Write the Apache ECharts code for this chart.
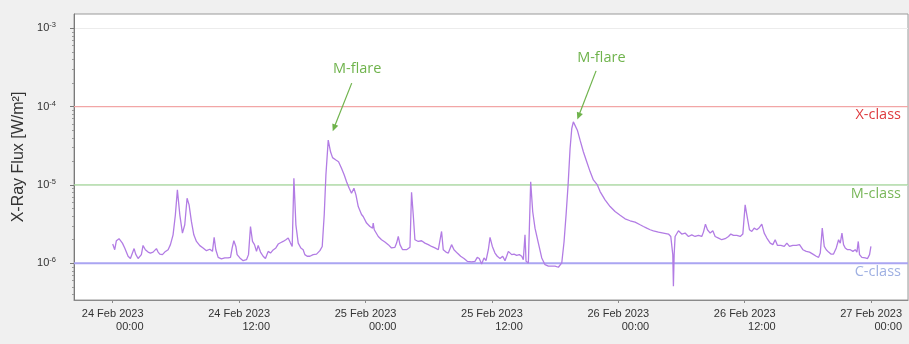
<!DOCTYPE html>
<html>
<head>
<meta charset="utf-8">
<script src="https://cdn.jsdelivr.net/npm/echarts@6/dist/echarts.min.js"></script>
<style>
  html, body { margin: 0; padding: 0; background: #f0f0f0; }
  #chart { width: 909px; height: 344px; }
</style>
</head>
<body>
<div id="chart"></div>
<script>
// GOES X-ray flux, 24–27 Feb 2023.
// Times are hours after 24 Feb 2023 00:00 UTC, flux in W/m².
const day24Hours = [0.00, 0.19, 0.35, 0.60, 0.76, 0.92, 1.14, 1.46, 1.68, 1.84, 2.03, 2.18, 2.41, 2.57, 2.72, 2.88, 3.10, 3.36, 3.58, 3.83, 3.99, 4.15, 4.31, 4.47, 4.72, 4.94, 5.26, 5.48, 5.73, 5.95, 6.14, 6.37, 6.62, 6.84, 7.06, 7.25, 7.47, 7.70, 7.95, 8.27, 8.58, 8.90, 9.22, 9.47, 9.63, 9.79, 10.01, 10.32, 10.64, 10.96, 11.18, 11.34, 11.50, 11.69, 11.81, 12.07, 12.38, 12.70, 12.89, 13.08, 13.27, 13.46, 13.65, 13.81, 14.03, 14.28, 14.50, 14.76, 14.98, 15.23, 15.49, 15.71, 15.93, 16.18, 16.44, 16.66, 16.88, 17.04, 17.20, 17.39, 17.61, 17.86, 18.08, 18.24, 18.46, 18.72, 19.03, 19.35, 19.67, 19.89, 20.08, 20.24, 20.46, 20.68, 20.87, 21.19, 21.44, 21.72, 21.98, 22.20, 22.45, 22.67, 22.90, 23.09, 23.31, 23.62, 23.78];
const day24Flux = [1.76e-6, 1.49e-6, 1.94e-6, 2.06e-6, 2.10e-6, 1.81e-6, 1.57e-6, 1.23e-6, 1.15e-6, 1.19e-6, 1.54e-6, 1.31e-6, 1.15e-6, 1.10e-6, 1.29e-6, 1.69e-6, 1.49e-6, 1.39e-6, 1.35e-6, 1.39e-6, 1.34e-6, 1.54e-6, 1.39e-6, 1.31e-6, 1.29e-6, 1.39e-6, 1.49e-6, 1.73e-6, 2.31e-6, 4.16e-6, 8.64e-6, 4.16e-6, 2.43e-6, 3.10e-6, 6.77e-6, 5.57e-6, 3.42e-6, 2.31e-6, 1.90e-6, 1.68e-6, 1.57e-6, 1.45e-6, 1.51e-6, 1.42e-6, 2.14e-6, 1.49e-6, 1.19e-6, 1.14e-6, 1.17e-6, 1.17e-6, 1.19e-6, 1.57e-6, 1.94e-6, 1.64e-6, 1.29e-6, 1.17e-6, 1.08e-6, 1.11e-6, 1.29e-6, 2.95e-6, 1.90e-6, 1.73e-6, 1.42e-6, 1.69e-6, 1.39e-6, 1.23e-6, 1.15e-6, 1.42e-6, 1.35e-6, 1.48e-6, 1.57e-6, 1.76e-6, 1.83e-6, 1.90e-6, 2.00e-6, 2.10e-6, 1.81e-6, 1.64e-6, 1.22e-5, 3.10e-6, 1.81e-6, 1.57e-6, 1.49e-6, 1.29e-6, 1.23e-6, 1.23e-6, 1.29e-6, 1.31e-6, 1.45e-6, 1.64e-6, 4.16e-6, 1.34e-5, 3.73e-5, 2.65e-5, 2.23e-5, 2.08e-5, 1.98e-5, 1.63e-5, 1.34e-5, 1.10e-5, 9.07e-6, 7.83e-6, 9.07e-6, 7.46e-6, 5.30e-6, 4.20e-6, 3.96e-6];

const day25Hours = [24.10, 24.42, 24.67, 24.73, 24.83, 25.21, 25.52, 25.84, 26.16, 26.47, 26.79, 26.95, 27.11, 27.27, 27.52, 27.90, 28.22, 28.37, 28.53, 28.69, 29.01, 29.32, 29.64, 29.96, 30.27, 30.59, 30.91, 31.07, 31.22, 31.38, 31.64, 31.86, 32.17, 32.40, 32.71, 33.03, 33.35, 33.66, 34.07, 34.39, 34.61, 34.80, 35.02, 35.25, 35.44, 35.66, 35.82, 36.04, 36.29, 36.51, 36.77, 37.02, 37.24, 37.40, 37.56, 37.72, 37.88, 38.10, 38.35, 38.60, 38.83, 38.98, 39.14, 39.24, 39.46, 39.55, 39.68, 39.87, 40.09, 40.41, 40.73, 41.04, 41.36, 41.67, 41.99, 42.31, 42.63, 42.85, 43.04, 43.23, 43.42, 43.58, 43.73, 43.89, 44.11, 44.37, 44.68, 45.00, 45.32, 45.63, 46.01, 46.27, 46.74, 47.22, 47.69];
const day25Flux = [3.26e-6, 2.95e-6, 2.81e-6, 3.26e-6, 2.68e-6, 2.20e-6, 2.00e-6, 1.87e-6, 1.73e-6, 1.57e-6, 1.60e-6, 1.81e-6, 2.20e-6, 1.73e-6, 1.49e-6, 1.49e-6, 1.60e-6, 8.07e-6, 4.16e-6, 2.00e-6, 1.90e-6, 1.94e-6, 1.81e-6, 1.73e-6, 1.64e-6, 1.57e-6, 1.49e-6, 1.45e-6, 2.55e-6, 1.49e-6, 1.39e-6, 1.35e-6, 1.73e-6, 1.49e-6, 1.35e-6, 1.23e-6, 1.15e-6, 1.06e-6, 1.04e-6, 1.06e-6, 1.19e-6, 1.15e-6, 0.98e-6, 1.17e-6, 1.08e-6, 1.49e-6, 2.14e-6, 1.64e-6, 1.35e-6, 1.23e-6, 1.15e-6, 1.23e-6, 1.08e-6, 1.23e-6, 1.42e-6, 1.49e-6, 1.29e-6, 1.31e-6, 1.26e-6, 1.29e-6, 1.23e-6, 1.11e-6, 2.31e-6, 1.06e-6, 1.01e-6, 1.06e-6, 1.10e-5, 4.58e-6, 2.81e-6, 1.81e-6, 1.17e-6, 0.96e-6, 0.92e-6, 0.92e-6, 0.92e-6, 0.89e-6, 1.01e-6, 1.90e-6, 4.16e-6, 1.00e-5, 2.92e-5, 5.25e-5, 6.38e-5, 6.08e-5, 5.00e-5, 3.73e-5, 2.65e-5, 1.98e-5, 1.48e-5, 1.16e-5, 1.00e-5, 8.23e-6, 6.45e-6, 5.30e-6, 4.58e-6];

const day26Hours = [48.17, 48.64, 49.12, 49.59, 50.07, 50.38, 50.70, 51.02, 51.33, 51.81, 52.28, 52.76, 52.98, 53.17, 53.23, 53.30, 53.39, 53.71, 54.02, 54.34, 54.66, 54.97, 55.29, 55.61, 55.92, 56.08, 56.27, 56.46, 56.72, 56.97, 57.19, 57.51, 57.82, 58.14, 58.46, 58.68, 58.93, 59.25, 59.57, 59.82, 60.04, 60.20, 60.45, 60.67, 60.90, 61.15, 61.40, 61.62, 61.85, 62.10, 62.42, 62.67, 62.89, 63.11, 63.43, 63.75, 64.00, 64.25, 64.57, 64.89, 65.20, 65.33, 65.52, 65.84, 66.15, 66.47, 66.79, 67.01, 67.17, 67.36, 67.55, 67.74, 67.96, 68.18, 68.43, 68.69, 68.91, 69.07, 69.23, 69.38, 69.54, 69.76, 70.02, 70.27, 70.49, 70.65, 70.78, 70.90, 71.12, 71.44, 71.66, 71.85, 71.98];
const day26Flux = [4.10e-6, 3.70e-6, 3.49e-6, 3.35e-6, 3.10e-6, 2.95e-6, 2.81e-6, 2.68e-6, 2.60e-6, 2.50e-6, 2.43e-6, 2.36e-6, 2.20e-6, 1.29e-6, 0.51e-6, 1.29e-6, 2.20e-6, 2.60e-6, 2.36e-6, 2.43e-6, 2.20e-6, 2.31e-6, 2.20e-6, 2.27e-6, 2.20e-6, 2.50e-6, 3.16e-6, 2.68e-6, 2.43e-6, 2.60e-6, 2.20e-6, 2.10e-6, 2.00e-6, 2.06e-6, 2.20e-6, 2.36e-6, 2.27e-6, 2.27e-6, 2.20e-6, 2.36e-6, 5.57e-6, 4.16e-6, 2.68e-6, 2.55e-6, 2.81e-6, 2.68e-6, 2.87e-6, 3.16e-6, 2.43e-6, 2.10e-6, 1.81e-6, 1.73e-6, 2.00e-6, 1.69e-6, 1.69e-6, 1.64e-6, 1.81e-6, 1.64e-6, 1.69e-6, 1.69e-6, 1.73e-6, 1.81e-6, 1.49e-6, 1.42e-6, 1.39e-6, 1.31e-6, 1.23e-6, 1.19e-6, 1.35e-6, 2.81e-6, 1.64e-6, 1.49e-6, 1.39e-6, 1.31e-6, 1.31e-6, 1.57e-6, 2.00e-6, 1.81e-6, 2.43e-6, 1.73e-6, 1.57e-6, 1.49e-6, 1.49e-6, 1.42e-6, 1.49e-6, 1.39e-6, 1.90e-6, 1.29e-6, 1.19e-6, 1.17e-6, 1.15e-6, 1.29e-6, 1.64e-6];

// Axis ticks
const xTickHours = [0, 12, 24, 36, 48, 60, 72];
const xTickDates = ['24 Feb 2023', '24 Feb 2023', '25 Feb 2023', '25 Feb 2023', '26 Feb 2023', '26 Feb 2023', '27 Feb 2023'];
const xTickTimes = ['00:00', '12:00', '00:00', '12:00', '00:00', '12:00', '00:00'];
const yTickExponents = [-6, -5, -4, -3];

// Flare class thresholds
const classLevels = [1e-4, 1e-5, 1e-6];
const classNames = ['X-class', 'M-class', 'C-class'];

// Flare annotations (peak hour of each M-flare)
const flareHours = [20.46, 43.73];
const flareLabels = ['M-flare', 'M-flare'];

// ---- styling ----
const classLineColors = ['#f2a6a6', '#a6d89c', '#aaa5f2'];
const classLineWidths = [1.2, 1.2, 2];
const classTextColors = ['#de3a3e', '#79b75a', '#9fb0e2'];
const flareColor = '#6fb34c';
// per-annotation placement of tip, tail and text relative to the peak (px)
const flareLayout = [
  { tip: [4.5, -9], tail: [23.5, -57], text: [29, -71] },
  { tip: [4, -2.5], tail: [22.7, -51], text: [28, -64] }
];

const hours = day24Hours.concat(day25Hours, day26Hours);
const flux = day24Flux.concat(day25Flux, day26Flux);
const seriesData = hours.map((h, i) => [h, flux[i]]);

const xMin = -3.675;
const xMax = 75.5;
const yMin = 3.4e-7;
const yMax = 1.52e-3;
const majorY = yTickExponents.map(e => Math.pow(10, e));
const minorY = [];
for (let e = -7; e <= -3; e++) {
  for (let k = 2; k <= 9; k++) {
    const v = k * Math.pow(10, e);
    if (v > yMin && v < yMax) minorY.push(v);
  }
}

const labelFont = '"Liberation Sans", Arial, sans-serif';
const noteFont = '"Open Sans", sans-serif';

const chart = echarts.init(document.getElementById('chart'), null, { renderer: 'canvas' });

// horizontal threshold lines spanning the whole time range
const classSeries = classLevels.map((v, i) => ({
  type: 'line',
  name: classNames[i],
  data: [[xMin, v], [xMax, v]],
  yAxisIndex: 0,
  symbol: 'none',
  silent: true,
  lineStyle: { color: classLineColors[i], width: classLineWidths[i], type: 'solid' },
  z: 2
}));

const option = {
  animation: false,
  backgroundColor: '#f0f0f0',
  grid: {
    left: 74, right: 1, top: 14, bottom: 44,
    show: true, backgroundColor: '#ffffff', borderColor: '#9a9a9a', borderWidth: 1
  },
  xAxis: {
    type: 'value',
    min: xMin,
    max: xMax,
    axisLine: { onZero: false, lineStyle: { color: '#8a8a8a', width: 1 } },
    axisTick: { customValues: xTickHours, length: 3, lineStyle: { color: '#8a8a8a' } },
    axisLabel: {
      customValues: xTickHours,
      margin: 7,
      formatter: function (value) {
        const i = xTickHours.indexOf(Math.round(value));
        if (i < 0) return '';
        return '{r|' + xTickDates[i] + '}\n{r|' + xTickTimes[i] + '}';
      },
      rich: {
        r: { align: 'right', fontSize: 11, lineHeight: 13, color: '#333', fontFamily: labelFont }
      }
    },
    splitLine: { show: false }
  },
  yAxis: [
    {
      type: 'log',
      logBase: 10,
      min: yMin,
      max: yMax,
      position: 'left',
      name: 'X-Ray Flux [W/m²]',
      nameLocation: 'middle',
      nameGap: 47,
      nameTextStyle: { fontSize: 16, color: '#333', fontFamily: labelFont },
      axisLine: { show: true, onZero: false, lineStyle: { color: '#7a7a7a' } },
      axisTick: { show: true, customValues: majorY, length: 4, lineStyle: { color: '#7a7a7a' } },
      axisLabel: {
        customValues: majorY,
        margin: 18,
        formatter: function (v) {
          return '{b|10}{s|' + Math.round(Math.log10(v)) + '}';
        },
        rich: {
          b: { fontSize: 11, lineHeight: 14, color: '#333', fontFamily: labelFont },
          s: { fontSize: 7.5, lineHeight: 8, verticalAlign: 'top', color: '#333', fontFamily: labelFont }
        }
      },
      splitLine: { show: true, lineStyle: { color: '#ececec', width: 1 } }
    },
    {
      type: 'log',
      logBase: 10,
      min: yMin,
      max: yMax,
      position: 'left',
      axisLine: { show: false, onZero: false },
      axisTick: { show: true, customValues: minorY, length: 2, lineStyle: { color: '#9a9a9a' } },
      axisLabel: { show: false },
      splitLine: { show: false }
    }
  ],
  series: classSeries.concat([
    {
      type: 'line',
      name: 'X-ray flux',
      data: seriesData,
      yAxisIndex: 0,
      symbol: 'none',
      showSymbol: false,
      lineStyle: { color: '#b27ce4', width: 1.3 },
      z: 3
    }
  ])
};

chart.setOption(option);

const graphics = [];

// class names under the right end of each threshold line
classLevels.forEach((v, i) => {
  const p = chart.convertToPixel({ xAxisIndex: 0, yAxisIndex: 0 }, [xMax, v]);
  graphics.push({
    type: 'text',
    x: p[0] - 7,
    y: p[1] + 1,
    style: {
      text: classNames[i],
      fill: classTextColors[i],
      font: '14.5px ' + noteFont,
      textAlign: 'right',
      textVerticalAlign: 'top'
    },
    z: 10
  });
});

// M-flare labels with arrows pointing at the peaks
flareHours.forEach((h, i) => {
  const idx = hours.indexOf(h);
  const peak = chart.convertToPixel({ xAxisIndex: 0, yAxisIndex: 0 }, [h, flux[idx]]);
  const L = flareLayout[i];
  const tip = [peak[0] + L.tip[0], peak[1] + L.tip[1]];
  const tail = [peak[0] + L.tail[0], peak[1] + L.tail[1]];
  const dx = tip[0] - tail[0], dy = tip[1] - tail[1];
  const len = Math.sqrt(dx * dx + dy * dy);
  const ux = dx / len, uy = dy / len;
  const nx = -uy, ny = ux;
  const headLen = 7, headHalf = 3.2;
  const base = [tip[0] - ux * headLen, tip[1] - uy * headLen];
  graphics.push({
    type: 'line',
    shape: { x1: tail[0], y1: tail[1], x2: base[0] + ux, y2: base[1] + uy },
    style: { stroke: flareColor, lineWidth: 1.2 },
    z: 10
  });
  graphics.push({
    type: 'polygon',
    shape: { points: [tip, [base[0] + nx * headHalf, base[1] + ny * headHalf], [base[0] - nx * headHalf, base[1] - ny * headHalf]] },
    style: { fill: flareColor },
    z: 10
  });
  graphics.push({
    type: 'text',
    x: peak[0] + L.text[0],
    y: peak[1] + L.text[1],
    style: {
      text: flareLabels[i],
      fill: flareColor,
      font: '14.5px ' + noteFont,
      textAlign: 'center',
      textVerticalAlign: 'middle'
    },
    z: 10
  });
});
chart.setOption({ graphic: graphics });
</script>
</body>
</html>
